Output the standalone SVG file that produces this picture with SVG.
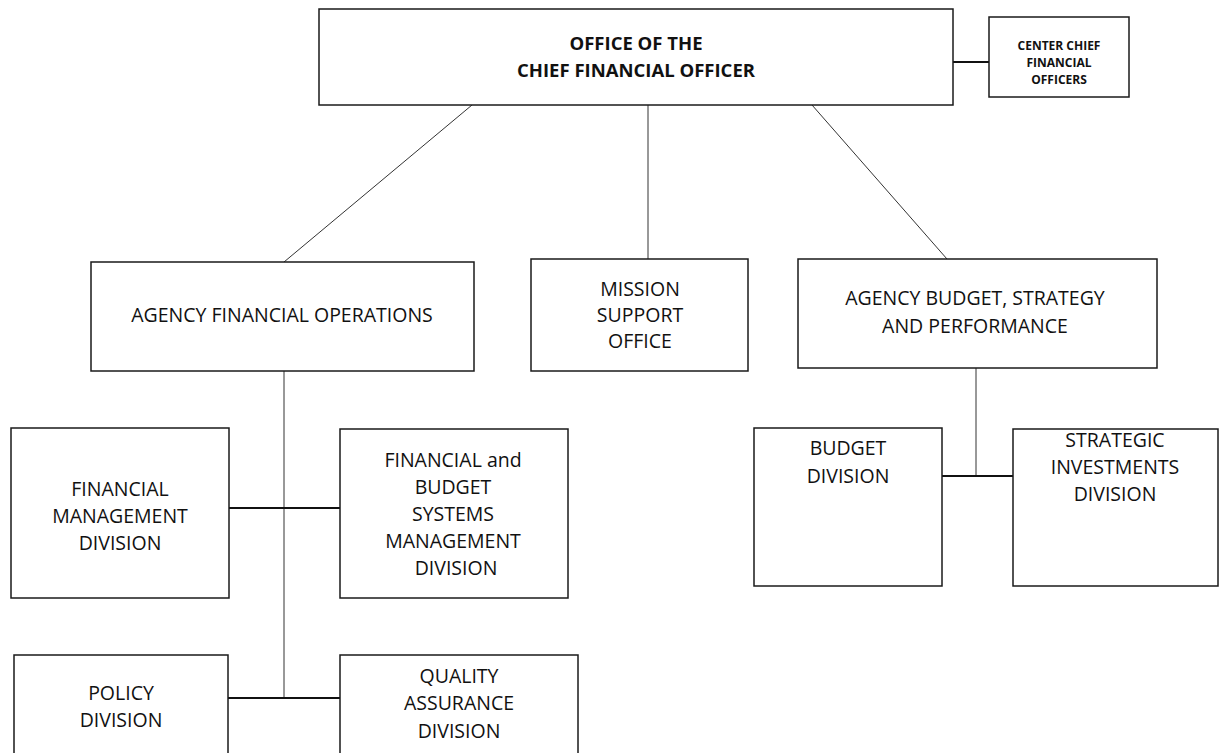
<svg xmlns="http://www.w3.org/2000/svg" width="1219" height="753" viewBox="0 0 1219 753">
  <style>
    .box { fill: #ffffff; stroke: #1a1a1a; stroke-width: 1.5; }
    .lbl { font-family: "Open Sans", "Noto Sans", "DejaVu Sans", sans-serif; font-size: 19.5px; fill: #111111; text-anchor: middle; }
    .head { font-family: "Open Sans", "Noto Sans", "DejaVu Sans", sans-serif; font-size: 18.5px; font-weight: bold; fill: #111111; text-anchor: middle; }
    .small { font-family: "Open Sans", "Noto Sans", "DejaVu Sans", sans-serif; font-size: 12px; font-weight: bold; fill: #111111; text-anchor: middle; }
    .thin { stroke: #333333; stroke-width: 1; fill: none; }
    .bar { stroke: #111111; stroke-width: 2; fill: none; }
  </style>
  <rect width="1219" height="753" fill="#ffffff"/>

  <!-- connectors -->
  <g id="connectors">
    <line class="bar" x1="953" y1="62" x2="989" y2="62"/>
    <line class="thin" x1="472" y1="105" x2="284" y2="262"/>
    <line class="thin" x1="648" y1="105" x2="648" y2="259"/>
    <line class="thin" x1="812" y1="105" x2="947" y2="259"/>
    <line class="thin" x1="284" y1="371" x2="284" y2="698"/>
    <line class="bar" x1="229" y1="508" x2="340" y2="508"/>
    <line class="bar" x1="228" y1="698" x2="340" y2="698"/>
    <line class="thin" x1="976" y1="368" x2="976" y2="476"/>
    <line class="bar" x1="942" y1="476" x2="1013" y2="476"/>
  </g>

  <g id="ocfo">
    <rect class="box" x="319" y="9" width="634" height="96"/>
    <text class="head" x="636" y="50">OFFICE OF THE</text>
    <text class="head" x="636" y="77">CHIEF FINANCIAL OFFICER</text>
  </g>

  <g id="center-cfo">
    <rect class="box" x="989" y="17" width="140" height="80"/>
    <text class="small" x="1059" y="50">CENTER CHIEF</text>
    <text class="small" x="1059" y="67">FINANCIAL</text>
    <text class="small" x="1059" y="84">OFFICERS</text>
  </g>

  <g id="afo">
    <rect class="box" x="91" y="262" width="383" height="109"/>
    <text class="lbl" x="282" y="322">AGENCY FINANCIAL OPERATIONS</text>
  </g>

  <g id="mission">
    <rect class="box" x="531" y="259" width="217" height="112"/>
    <text class="lbl" x="640" y="296">MISSION</text>
    <text class="lbl" x="640" y="322">SUPPORT</text>
    <text class="lbl" x="640" y="348">OFFICE</text>
  </g>

  <g id="absp">
    <rect class="box" x="798" y="259" width="359" height="109"/>
    <text class="lbl" x="975" y="305">AGENCY BUDGET, STRATEGY</text>
    <text class="lbl" x="975" y="333">AND PERFORMANCE</text>
  </g>

  <g id="fmd">
    <rect class="box" x="11" y="428" width="218" height="170"/>
    <text class="lbl" x="120" y="496">FINANCIAL</text>
    <text class="lbl" x="120" y="523">MANAGEMENT</text>
    <text class="lbl" x="120" y="550">DIVISION</text>
  </g>

  <g id="fbsmd">
    <rect class="box" x="340" y="429" width="228" height="169"/>
    <text class="lbl" x="453" y="467">FINANCIAL and</text>
    <text class="lbl" x="453" y="494">BUDGET</text>
    <text class="lbl" x="453" y="521">SYSTEMS</text>
    <text class="lbl" x="453" y="548">MANAGEMENT</text>
    <text class="lbl" x="456" y="575">DIVISION</text>
  </g>

  <g id="policy">
    <rect class="box" x="14" y="655" width="214" height="110"/>
    <text class="lbl" x="121" y="700">POLICY</text>
    <text class="lbl" x="121" y="727">DIVISION</text>
  </g>

  <g id="qa">
    <rect class="box" x="340" y="655" width="238" height="110"/>
    <text class="lbl" x="459" y="683">QUALITY</text>
    <text class="lbl" x="459" y="710">ASSURANCE</text>
    <text class="lbl" x="459" y="738">DIVISION</text>
  </g>

  <g id="budget">
    <rect class="box" x="754" y="428" width="188" height="158"/>
    <text class="lbl" x="848" y="455">BUDGET</text>
    <text class="lbl" x="848" y="483">DIVISION</text>
  </g>

  <g id="strategic">
    <rect class="box" x="1013" y="429" width="205" height="157"/>
    <text class="lbl" x="1115" y="447">STRATEGIC</text>
    <text class="lbl" x="1115" y="474">INVESTMENTS</text>
    <text class="lbl" x="1115" y="501">DIVISION</text>
  </g>
</svg>
